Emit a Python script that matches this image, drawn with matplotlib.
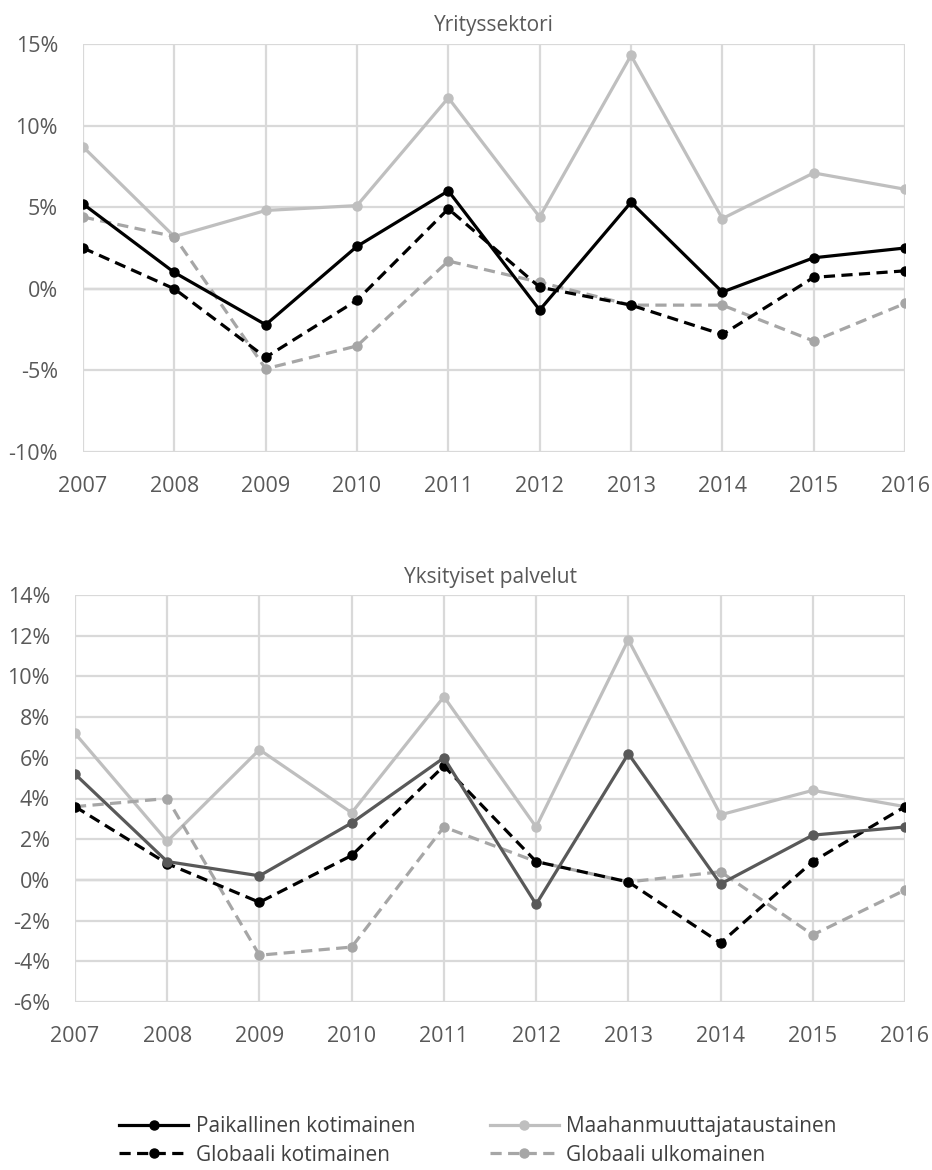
import matplotlib.pyplot as plt
from matplotlib.lines import Line2D
from matplotlib.ticker import FuncFormatter

plt.rcParams['font.family'] = ['Open Sans', 'DejaVu Sans']

years = [2007, 2008, 2009, 2010, 2011, 2012, 2013, 2014, 2015, 2016]

# Yrityssektori (%)
top_paik = [5.2, 1.0, -2.2, 2.6, 6.0, -1.3, 5.3, -0.2, 1.9, 2.5]
top_maah = [8.7, 3.2, 4.8, 5.1, 11.7, 4.4, 14.3, 4.3, 7.1, 6.1]
top_glob_koti = [2.5, 0.0, -4.2, -0.7, 4.9, 0.1, -1.0, -2.8, 0.7, 1.1]
top_glob_ulko = [4.4, 3.2, -4.9, -3.5, 1.7, 0.4, -1.0, -1.0, -3.2, -0.9]

# Yksityiset palvelut (%)
bot_paik = [5.2, 0.9, 0.2, 2.8, 6.0, -1.2, 6.2, -0.2, 2.2, 2.6]
bot_maah = [7.2, 1.9, 6.4, 3.3, 9.0, 2.6, 11.8, 3.2, 4.4, 3.6]
bot_glob_koti = [3.6, 0.8, -1.1, 1.2, 5.6, 0.9, -0.1, -3.1, 0.9, 3.6]
bot_glob_ulko = [3.6, 4.0, -3.7, -3.3, 2.6, 0.9, -0.1, 0.4, -2.7, -0.5]

labels = ["Paikallinen kotimainen", "Maahanmuuttajataustainen",
          "Globaali kotimainen", "Globaali ulkomainen"]

BLACK = "#000000"
DARK = "#595959"
LIGHT = "#BFBFBF"
MID = "#A6A6A6"
GRID = "#D9D9D9"
TXT = "#595959"
DASH = (0, (3.5, 2))

fig = plt.figure(figsize=(9.32, 11.7), dpi=100)
W, H = 932, 1170
ax1 = fig.add_axes([83 / W, 1 - 452 / H, (905 - 83) / W, (452 - 44) / H])
ax2 = fig.add_axes([75 / W, 1 - 1002 / H, (905 - 75) / W, (1002 - 595) / H])


def style(ax, ylim, step, title):
    ax.set_xlim(years[0], years[-1])
    ax.set_ylim(*ylim)
    ax.set_xticks(years)
    ax.set_yticks(range(ylim[0], ylim[1] + 1, step))
    ax.yaxis.set_major_formatter(FuncFormatter(lambda v, p: f"{v:.0f}%"))
    ax.grid(True, color=GRID, lw=1.6, zorder=0)
    ax.axhline(0, color=MID, lw=1.6, zorder=1)
    for s in ax.spines.values():
        s.set_visible(False)
    ax.tick_params(length=0, labelsize=15.5, colors=TXT)
    ax.tick_params(axis="x", pad=17)
    ax.tick_params(axis="y", pad=18)
    ax.set_title(title, fontsize=15, color=TXT, pad=9)


def draw(ax, paik, maah, gk, gu, paik_color):
    kw = dict(lw=2.3, marker="o", ms=6.5, zorder=3)
    ax.plot(years, maah, color=LIGHT, **kw)
    ax.plot(years, gu, color=MID, ls=DASH, **kw)
    ax.plot(years, gk, color=BLACK, ls=DASH, **kw)
    ax.plot(years, paik, color=paik_color, **kw)


style(ax1, (-10, 15), 5, "Yrityssektori")
draw(ax1, top_paik, top_maah, top_glob_koti, top_glob_ulko, BLACK)

style(ax2, (-6, 14), 2, "Yksityiset palvelut")
draw(ax2, bot_paik, bot_maah, bot_glob_koti, bot_glob_ulko, DARK)

hkw = dict(lw=2.3, marker="o", ms=6.5)
handles = {
    labels[0]: Line2D([], [], color=BLACK, **hkw),
    labels[1]: Line2D([], [], color=LIGHT, **hkw),
    labels[2]: Line2D([], [], color=BLACK, ls=DASH, **hkw),
    labels[3]: Line2D([], [], color=MID, ls=DASH, **hkw),
}
# column-major order so rows read: Paikallinen | Maahanmuuttaja, Globaali k. | Globaali u.
order = [labels[0], labels[2], labels[1], labels[3]]
fig.legend([handles[k] for k in order], order, ncol=2, loc="center",
           bbox_to_anchor=(478 / W, 1 - 1141 / H), frameon=False, fontsize=15,
           labelcolor="#404040", handlelength=3.3, columnspacing=3.6,
           handletextpad=0.35, labelspacing=0.35)

fig.savefig("out.png", dpi=100)
